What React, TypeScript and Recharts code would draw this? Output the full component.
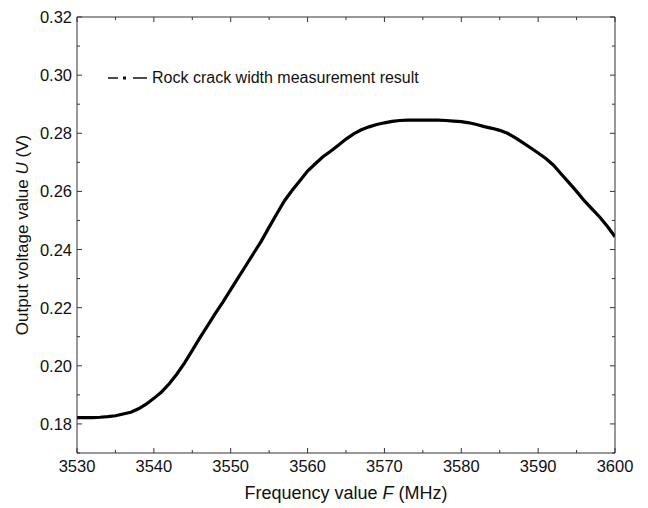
import { LineChart, Line, XAxis, YAxis, Legend } from "recharts"

const frequency = [
  3530, 3531, 3532, 3533, 3534, 3535, 3536, 3537, 3538, 3539,
  3540, 3541, 3542, 3543, 3544, 3545, 3546, 3547, 3548, 3549,
  3550, 3551, 3552, 3553, 3554, 3555, 3556, 3557, 3558, 3559,
  3560, 3561, 3562, 3563, 3564, 3565, 3566, 3567, 3568, 3569,
  3570, 3571, 3572, 3573, 3574, 3575, 3576, 3577, 3578, 3579,
  3580, 3581, 3582, 3583, 3584, 3585, 3586, 3587, 3588, 3589,
  3590, 3591, 3592, 3593, 3594, 3595, 3596, 3597, 3598, 3599,
  3600,
]

const voltage = [
  0.1822, 0.1822, 0.1822, 0.1823, 0.1825, 0.1828, 0.1834, 0.184, 0.1852, 0.1868,
  0.1888, 0.191, 0.1938, 0.1972, 0.201, 0.2053, 0.2097, 0.2138, 0.218, 0.222,
  0.2262, 0.2304, 0.2346, 0.2388, 0.243, 0.2477, 0.2523, 0.2568, 0.2604, 0.2637,
  0.267, 0.2695, 0.2719, 0.2738, 0.2759, 0.278, 0.2798, 0.2812, 0.2822, 0.283,
  0.2836, 0.2841, 0.2844, 0.2845, 0.2845, 0.2845, 0.2845, 0.2845, 0.2844, 0.2842,
  0.284, 0.2836, 0.283, 0.2823, 0.2817, 0.281, 0.28, 0.2785, 0.2768, 0.275,
  0.2732, 0.2713, 0.269, 0.266, 0.263, 0.26, 0.2568, 0.254, 0.2512, 0.248,
  0.2444,
]

const xTicks = [3530, 3535, 3540, 3545, 3550, 3555, 3560, 3565, 3570, 3575, 3580, 3585, 3590, 3595, 3600]
const yTicks = [0.17, 0.18, 0.19, 0.2, 0.21, 0.22, 0.23, 0.24, 0.25, 0.26, 0.27, 0.28, 0.29, 0.3, 0.31, 0.32]
const seriesName = "Rock crack width measurement result"

const data = frequency.map((f, i) => ({ f, u: voltage[i] }))

const FONT = "Arial, 'Liberation Sans', sans-serif"
const AXIS = "#333"
const MARGIN = 10
const MAJOR = 5
const MINOR = 3

const isMajorX = (v: number) => Math.round(v) % 10 === 0
const isMajorY = (v: number) => Math.round(v * 100) % 2 === 0

// ticks point inward; tick y/x from recharts = axis position +/- MARGIN
const BottomTick = (p: any) => {
  const axisY = p.y - MARGIN
  const major = isMajorX(p.payload.value)
  return (
    <g>
      <line x1={p.x} x2={p.x} y1={axisY} y2={axisY - (major ? MAJOR : MINOR)} stroke={AXIS} />
      {major && (
        <text x={p.x} y={axisY + 19} textAnchor="middle" fontSize={16.5} fontFamily={FONT} fill="#111">
          {p.payload.value}
        </text>
      )}
    </g>
  )
}

const TopTick = (p: any) => {
  const axisY = p.y + MARGIN
  const major = isMajorX(p.payload.value)
  return <line x1={p.x} x2={p.x} y1={axisY} y2={axisY + (major ? MAJOR : MINOR)} stroke={AXIS} />
}

const LeftTick = (p: any) => {
  const axisX = p.x + MARGIN
  const major = isMajorY(p.payload.value)
  return (
    <g>
      <line x1={axisX} x2={axisX + (major ? MAJOR : MINOR)} y1={p.y} y2={p.y} stroke={AXIS} />
      {major && (
        <text x={axisX - 5} y={p.y + 6} textAnchor="end" fontSize={16.5} fontFamily={FONT} fill="#111">
          {p.payload.value.toFixed(2)}
        </text>
      )}
    </g>
  )
}

const RightTick = (p: any) => {
  const axisX = p.x - MARGIN
  const major = isMajorY(p.payload.value)
  return <line x1={axisX} x2={axisX - (major ? MAJOR : MINOR)} y1={p.y} y2={p.y} stroke={AXIS} />
}

const XTitle = (p: any) => {
  const vb = p.viewBox
  return (
    <text x={vb.x + vb.width / 2} y={vb.y + 46} textAnchor="middle" fontSize={18} fontFamily={FONT} fill="#111">
      Frequency value <tspan fontStyle="italic">F</tspan> (MHz)
    </text>
  )
}

const YTitle = (p: any) => {
  const vb = p.viewBox
  const cx = 20
  const cy = vb.y + vb.height / 2
  return (
    <text
      x={cx}
      y={cy}
      transform={`rotate(-90 ${cx} ${cy})`}
      textAnchor="middle"
      fontSize={17}
      fontFamily={FONT}
      fill="#111"
    >
      Output voltage value <tspan fontStyle="italic">U</tspan> (V)
    </text>
  )
}

const LegendBox = () => (
  <div style={{ display: "flex", alignItems: "center", fontFamily: FONT, fontSize: 16, color: "#111" }}>
    <svg width={44} height={12}>
      <line x1={3} x2={13} y1={6} y2={6} stroke="#111" strokeWidth={1.5} />
      <rect x={18} y={4.5} width={3} height={3} fill="#111" />
      <line x1={28} x2={42} y1={6} y2={6} stroke="#111" strokeWidth={1.5} />
    </svg>
    <span style={{ marginLeft: 3 }}>{seriesName}</span>
  </div>
)

export default function App() {
  return (
    <LineChart width={640} height={500} data={data} margin={{ top: 8, right: 32, bottom: 0, left: 0 }}>
      <XAxis
        dataKey="f"
        type="number"
        domain={[3530, 3600]}
        allowDataOverflow
        ticks={xTicks}
        interval={0}
        height={55}
        tickSize={0}
        tickMargin={MARGIN}
        tickLine={false}
        axisLine={{ stroke: AXIS }}
        tick={BottomTick}
        label={XTitle}
      />
      <XAxis
        xAxisId="top"
        orientation="top"
        dataKey="f"
        type="number"
        domain={[3530, 3600]}
        allowDataOverflow
        ticks={xTicks}
        interval={0}
        height={1}
        tickSize={0}
        tickMargin={MARGIN}
        tickLine={false}
        axisLine={{ stroke: AXIS }}
        tick={TopTick}
      />
      <YAxis
        type="number"
        domain={[0.17, 0.32]}
        allowDataOverflow
        ticks={yTicks}
        interval={0}
        width={69}
        tickSize={0}
        tickMargin={MARGIN}
        tickLine={false}
        axisLine={{ stroke: AXIS }}
        tick={LeftTick}
        label={YTitle}
      />
      <YAxis
        yAxisId="right"
        orientation="right"
        type="number"
        domain={[0.17, 0.32]}
        allowDataOverflow
        ticks={yTicks}
        interval={0}
        width={1}
        tickSize={0}
        tickMargin={MARGIN}
        tickLine={false}
        axisLine={{ stroke: AXIS }}
        tick={RightTick}
      />
      <Legend
        content={LegendBox}
        layout="horizontal"
        verticalAlign="middle"
        align="center"
        wrapperStyle={{ top: 61, left: 97, width: "auto" }}
      />
      <Line
        dataKey="u"
        type="linear"
        stroke="#000"
        strokeWidth={3.2}
        dot={false}
        isAnimationActive={false}
      />
    </LineChart>
  )
}
